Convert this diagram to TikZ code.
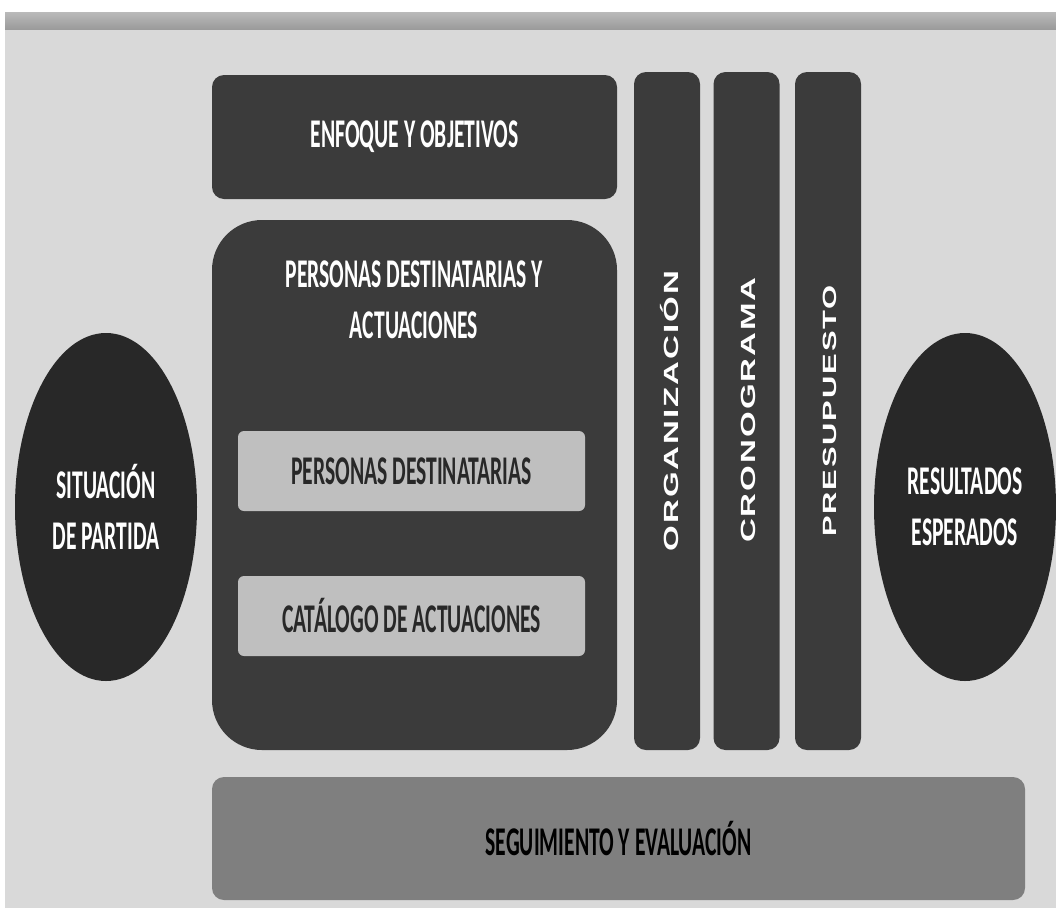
\documentclass[tikz,border=0pt]{standalone}
\usepackage{fontspec}
\setmainfont{Carlito}
\newfontfamily\barfont{Liberation Sans}[LetterSpace=6]
\usepackage{xcolor}
\usepackage{tikz}
\usetikzlibrary{shapes,positioning,calc}

\definecolor{fondo}{HTML}{D9D9D9}
\definecolor{oscuro}{HTML}{3B3B3B}
\definecolor{negro}{HTML}{282828}
\definecolor{claro}{HTML}{BFBFBF}
\definecolor{medio}{HTML}{7F7F7F}
\newcommand{\px}{0.025cm}
\newcommand{\squeeze}[1]{\scalebox{0.53}[1]{#1}}
\newcommand{\vertical}[1]{\scalebox{0.62}[1]{\rotatebox{90}{#1}}}

\begin{document}
\begin{tikzpicture}[x=0.025cm, y=-0.025cm,
    caja/.style={fill=oscuro, draw=none, rounded corners=0.3cm, inner sep=0pt},
    barra/.style={caja, minimum width=66*\px, minimum height=678*\px},
    elipse/.style={ellipse, fill=negro, inner sep=0pt, minimum width=182*\px, minimum height=348*\px},
    texto/.style={text=white, font=\bfseries\fontsize{29}{36}\selectfont, align=center},
    textobarra/.style={text=white, font=\barfont\bfseries\fontsize{23.5}{26}\selectfont, inner sep=0pt}]
    \useasboundingbox (0,0) rectangle (1056,908);
    \shade [top color=black!27, bottom color=black!40] (5,12) rectangle (1056,30);
    \fill [fondo] (5,30) rectangle (1056,908);

    \node [caja, minimum width=405*\px, minimum height=124*\px] (enfoque) at (414.5,137) {};
    \node [texto] at (enfoque) {\squeeze{ENFOQUE Y OBJETIVOS}};

    \node [caja, rounded corners=1.25cm, minimum width=405*\px, minimum height=530*\px] (personas) at (414.5,485) {};
    \node [texto] (personastxt) at (414,300) {\squeeze{PERSONAS DESTINATARIAS Y}\\\squeeze{ACTUACIONES}};
    \node [caja, fill=claro, rounded corners=0.15cm, minimum width=347*\px, minimum height=80*\px] (destinatarias) at (411.5,471) {};
    \node [texto, text=negro] at (destinatarias) {\squeeze{PERSONAS DESTINATARIAS}};
    \node [caja, fill=claro, rounded corners=0.15cm, minimum width=347*\px, minimum height=80*\px] (catalogo) at (411.5,616) {};
    \node [texto, text=negro] at (catalogo) {\squeeze{CATÁLOGO DE ACTUACIONES}};

    \node [barra] (organizacion) at (667,411) {}; \node [textobarra] at (670,411) {\vertical{ORGANIZACIÓN}};
    \node [barra] (cronograma) at (746.5,411) {}; \node [textobarra] at (748,410) {\vertical{CRONOGRAMA}};
    \node [barra] (presupuesto) at (828,411) {}; \node [textobarra, font=\barfont\bfseries\fontsize{22}{26}\selectfont] at (830,411) {\vertical{PRESUPUESTO}};

    \node [elipse] (situacion) at (106,507) {};
    \node [texto] at (situacion) {\squeeze{SITUACIÓN}\\\squeeze{DE PARTIDA}};
    \node [elipse] (resultados) at (965,507) {};
    \node [texto] at (resultados) {\squeeze{RESULTADOS}\\\squeeze{ESPERADOS}};

    \node [caja, fill=medio, minimum width=813*\px, minimum height=123*\px] (seguimiento) at (618.5,838.5) {};
    \node [texto, text=black] at (seguimiento) {\squeeze{SEGUIMIENTO Y EVALUACIÓN}};
\end{tikzpicture}
\end{document}
